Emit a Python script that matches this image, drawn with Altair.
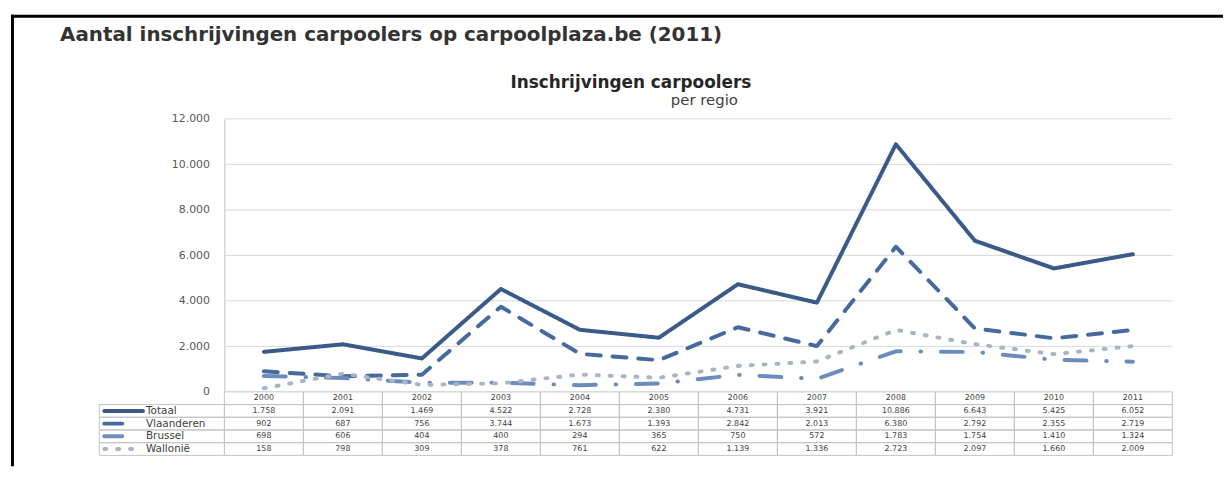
import altair as alt
import pandas as pd

# ---------------- data ----------------
years = ["2000", "2001", "2002", "2003", "2004", "2005",
         "2006", "2007", "2008", "2009", "2010", "2011"]
series = ["Totaal", "Vlaanderen", "Brussel", "Wallonië"]
totaal = [1758, 2091, 1469, 4522, 2728, 2380, 4731, 3921, 10886, 6643, 5425, 6052]
vlaanderen = [902, 687, 756, 3744, 1673, 1393, 2842, 2013, 6380, 2792, 2355, 2719]
brussel = [698, 606, 404, 400, 294, 365, 750, 572, 1783, 1754, 1410, 1324]
wallonie = [158, 798, 309, 378, 761, 622, 1139, 1336, 2723, 2097, 1660, 2009]
y_ticks = [0, 2000, 4000, 6000, 8000, 10000, 12000]

main_title = "Aantal inschrijvingen carpoolers op carpoolplaza.be (2011)"
chart_title = "Inschrijvingen carpoolers"
chart_subtitle = "per regio"

# ---------------- styles ----------------
colors = ["#3a5a88", "#46699e", "#6b8cbd", "#aab4c3"]
line_dash = [[1, 0], [14, 12], [22, 20, 0.5, 20], [2, 11]]
key_dash = [[1, 0], [18, 40], [18, 40], [2, 11]]
FONT = "DejaVu Sans"

W, H = 1220, 452
PX0, PX1 = 214, 1169          # plot area x range (inside frame group)
PY_TOP, PY0 = 104, 379        # plot area y range
TAB_BOTTOM = 443
LAB_X0 = 88

# ---------------- tables ----------------
vals = {"Totaal": totaal, "Vlaanderen": vlaanderen, "Brussel": brussel, "Wallonië": wallonie}
long_rows = []
for s in series:
    for y, v in zip(years, vals[s]):
        long_rows.append({"year": y, "series": s, "value": v})
df_long = pd.DataFrame(long_rows)


def fmt(v):
    return f"{v:,}".replace(",", ".")


cell_rows = [{"year": y, "row": "hdr", "txt": y} for y in years]
for s in series:
    for y, v in zip(years, vals[s]):
        cell_rows.append({"year": y, "row": s, "txt": fmt(v)})
df_cells = pd.DataFrame(cell_rows)
df_lab = pd.DataFrame({"row": series})

# ---------------- scales ----------------
xband = alt.Scale(type="band", domain=years, range=[PX0, PX1], paddingInner=0, paddingOuter=0)
yscale = alt.Scale(domain=[0, 12000], range=[PY0, PY_TOP], nice=False, zero=True)
rowscale = alt.Scale(type="band", domain=["hdr"] + series, range=[PY0, TAB_BOTTOM],
                     paddingInner=0, paddingOuter=0)
labscale = alt.Scale(type="band", domain=["lbl"], range=[LAB_X0, PX0], paddingInner=0, paddingOuter=0)

# ---------------- layers ----------------
frame = alt.Chart(pd.DataFrame({"f": [0]})).mark_point(opacity=0).encode(
    x=alt.X("f:Q", scale=alt.Scale(domain=[0, 1]),
            axis=alt.Axis(orient="top", domain=True, domainColor="#000000", domainWidth=3,
                          domainCap="square", ticks=False, labels=False, grid=False,
                          title=main_title, titleX=48, titleY=25, titleAlign="left",
                          titleAnchor="start", titleBaseline="alphabetic", titleFont=FONT,
                          titleFontSize=20, titleFontWeight="bold", titleColor="#333333")),
    y=alt.Y("f:Q", scale=alt.Scale(domain=[0, 1]),
            axis=alt.Axis(orient="left", domain=True, domainColor="#000000", domainWidth=3,
                          domainCap="square", ticks=False, labels=False, grid=False, title="")),
)

grid = alt.Chart(pd.DataFrame({"v": y_ticks[1:]})).mark_rule(color="#d9d9d9", strokeWidth=1).encode(
    y=alt.Y("v:Q", scale=yscale, axis=None),
    x=alt.XDatum(0, type="quantitative", scale=alt.Scale(domain=[0, 1], range=[PX0, PX1]), axis=None),
    x2=alt.X2Datum(1),
)

table_rect = alt.Chart(df_cells).mark_rect(filled=False, stroke="#c4c4c4", strokeWidth=1).encode(
    x=alt.X("year:O", scale=xband,
            axis=alt.Axis(orient="top", domain=False, ticks=False, labels=False, grid=False,
                          title=chart_subtitle, titleX=697, titleY=90, titleAlign="center",
                          titleBaseline="alphabetic", titleFont=FONT, titleFontSize=15,
                          titleFontWeight="normal", titleColor="#404040")),
    y=alt.Y("row:N", scale=rowscale, axis=None),
)

lab_rect = alt.Chart(df_lab).mark_rect(filled=False, stroke="#c4c4c4", strokeWidth=1).encode(
    x=alt.XDatum("lbl", type="nominal", scale=labscale, axis=None),
    y=alt.Y("row:N", scale=rowscale, axis=None),
)

table_text = alt.Chart(df_cells).mark_text(font=FONT, fontSize=8, color="#404040",
                                           align="center", baseline="middle").encode(
    x=alt.X("year:O", scale=xband, bandPosition=0.5, axis=None),
    y=alt.Y("row:N", scale=rowscale, bandPosition=0.5, axis=None),
    text="txt:N",
)

lab_text = alt.Chart(df_lab).mark_text(font=FONT, fontSize=10.5, color="#404040",
                                       align="left", baseline="middle", dx=47).encode(
    x=alt.XDatum("lbl", type="nominal", scale=labscale, bandPosition=0, axis=None),
    y=alt.Y("row:N", scale=rowscale, bandPosition=0.5, axis=None),
    text="row:N",
)

keys = alt.Chart(df_lab).mark_rule(strokeWidth=4, strokeCap="round").encode(
    x=alt.value(93), x2=alt.value(132),
    y=alt.Y("row:N", scale=rowscale, bandPosition=0.5, axis=None),
    color=alt.Color("row:N", scale=alt.Scale(domain=series, range=colors), legend=None),
    strokeDash=alt.StrokeDash("row:N", scale=alt.Scale(domain=series, range=key_dash), legend=None),
)

lines = alt.Chart(df_long).mark_line(strokeWidth=4, strokeCap="round", strokeJoin="round").encode(
    x=alt.X("year:O", scale=xband, bandPosition=0.5,
            axis=alt.Axis(orient="top", domain=False, ticks=False, labels=False, grid=False,
                          title=chart_title, titleX=623, titleY=72, titleAlign="center",
                          titleBaseline="alphabetic", titleFont=FONT, titleFontSize=17,
                          titleFontWeight="bold", titleColor="#262626")),
    y=alt.Y("value:Q", scale=yscale,
            axis=alt.Axis(orient="left", offset=-PX0, values=y_ticks,
                          labelExpr="replace(format(datum.value, ','), ',', '.')",
                          domain=True, domainColor="#bfbfbf", domainWidth=1, ticks=False,
                          grid=False, labelPadding=15, labelFont=FONT, labelFontSize=11,
                          labelColor="#595959", title="")),
    color=alt.Color("series:N", scale=alt.Scale(domain=series, range=colors), legend=None),
    strokeDash=alt.StrokeDash("series:N", scale=alt.Scale(domain=series, range=line_dash), legend=None),
    order=alt.Order("year:O"),
)

chart = alt.layer(frame, grid, table_rect, lab_rect, table_text, lab_text, keys, lines).resolve_scale(
    x="independent", y="independent", color="independent", strokeDash="independent"
).properties(
    width=W, height=H,
    padding={"left": 1, "top": 6, "right": 0, "bottom": 0},
    background="white",
).configure(font=FONT).configure_view(strokeWidth=0)

chart.save("out.html", embed_options={"renderer": "svg", "actions": False})
